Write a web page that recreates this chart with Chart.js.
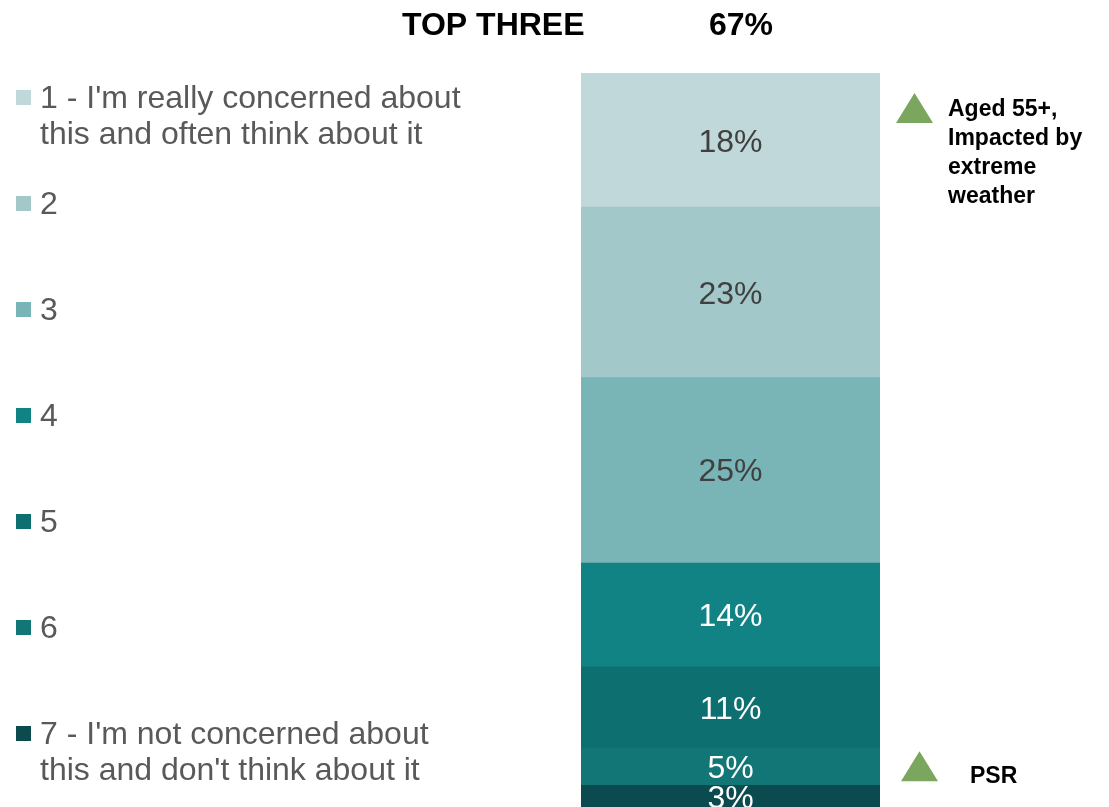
<!DOCTYPE html>
<html>
<head>
<meta charset="utf-8">
<script src="https://cdn.jsdelivr.net/npm/chart.js@4/dist/chart.umd.min.js"></script>
<style>
  html, body { margin: 0; padding: 0; background: #fff; }
  #wrap { width: 1109px; height: 807px; position: relative; }
</style>
</head>
<body>
<div id="wrap"><canvas id="chart" width="1109" height="807"></canvas></div>
<script>
const categories = ['']
const levels = [
  ["1 - I'm really concerned about", 'this and often think about it'],
  ['2'],
  ['3'],
  ['4'],
  ['5'],
  ['6'],
  ["7 - I'm not concerned about", "this and don't think about it"]
]
const shares = [18, 23, 25, 14, 11, 5, 3]
const colors = ['#c0d8da', '#a3c8c9', '#79b4b6', '#118385', '#0e6f70', '#127576', '#0b4b50']
const labelColors = ['#404040', '#404040', '#404040', '#ffffff', '#ffffff', '#ffffff', '#ffffff']
const topLabel = 'TOP THREE'
const topValue = '67%'
const notes = [
  { seg: 0, lines: ['Aged 55+,', 'Impacted by', 'extreme', 'weather'] },
  { seg: 5, lines: ['PSR'] }
]

const FONT = '"Liberation Sans", Arial, sans-serif'

const overlay = {
  id: 'overlay',
  afterDatasetsDraw(chart) {
    const ctx = chart.ctx
    ctx.save()

    // values in segments
    ctx.font = `32px ${FONT}`
    ctx.textAlign = 'center'
    ctx.textBaseline = 'middle'
    chart.data.datasets.forEach((ds, i) => {
      const bar = chart.getDatasetMeta(i).data[0]
      const mid = (bar.y + bar.base) / 2
      ctx.fillStyle = labelColors[i]
      ctx.fillText(ds.data[0] + '%', bar.x, mid + 3)
    })

    // header
    ctx.fillStyle = '#000'
    ctx.font = `bold 32px ${FONT}`
    ctx.textAlign = 'left'
    ctx.fillText(topLabel, 402, 26)
    ctx.fillText(topValue, 709, 26)

    // legend on the left
    levels.forEach((lines, i) => {
      const y = 97 + i * 106
      ctx.fillStyle = colors[i]
      ctx.fillRect(16, y - 7, 15, 15)
      ctx.fillStyle = '#595959'
      ctx.font = `32px ${FONT}`
      lines.forEach((t, k) => ctx.fillText(t, 40, y + 2 + k * 36))
    })

    // annotations to the right
    notes.forEach((n, idx) => {
      const bar = chart.getDatasetMeta(n.seg).data[0]
      const top = Math.min(bar.y, bar.base)
      const cy = idx === 0 ? top + 35 : (bar.y + bar.base) / 2
      const tx = idx === 0 ? 896 : 901
      ctx.fillStyle = '#7aa65e'
      ctx.beginPath()
      ctx.moveTo(tx + 18.5, cy - 15)
      ctx.lineTo(tx + 37, cy + 15)
      ctx.lineTo(tx, cy + 15)
      ctx.closePath()
      ctx.fill()
      ctx.fillStyle = '#000'
      ctx.font = `bold 23px ${FONT}`
      const x = idx === 0 ? 948 : 970
      const y0 = idx === 0 ? cy + 2 : cy + 10
      n.lines.forEach((t, k) => ctx.fillText(t, x, y0 + k * 29))
    })
    ctx.restore()
  }
}

new Chart(document.getElementById('chart'), {
  type: 'bar',
  data: {
    labels: categories,
    datasets: shares.map((v, i) => ({
      label: levels[i].join(' '),
      data: [v],
      backgroundColor: colors[i],
      borderWidth: 0,
      barPercentage: 1,
      categoryPercentage: 1
    }))
  },
  options: {
    responsive: false,
    animation: false,
    layout: { padding: { left: 581, right: 229, top: 73, bottom: 0 } },
    plugins: { legend: { display: false }, tooltip: { enabled: false } },
    scales: {
      x: { stacked: true, display: false },
      y: { stacked: true, display: false, reverse: true, min: 0, max: 99 }
    }
  },
  plugins: [overlay]
})
</script>
</body>
</html>
